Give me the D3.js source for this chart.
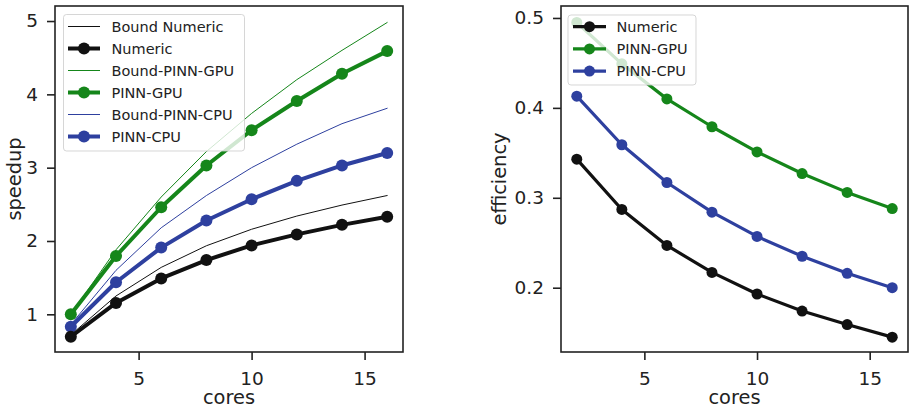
<!DOCTYPE html>
<html><head><meta charset="utf-8">
<script src="https://cdn.jsdelivr.net/npm/d3@7"></script>
<style>body{margin:0;background:#fff}svg{display:block}text{font-family:"DejaVu Sans",sans-serif;fill:#222}</style>
</head><body><svg id="c" width="909" height="409"></svg>
<script>
const cores = [2, 4, 6, 8, 10, 12, 14, 16];
const boundNumeric = [0.72, 1.25, 1.64, 1.935, 2.16, 2.34, 2.49, 2.62];
const numeric = [0.694, 1.155, 1.49, 1.74, 1.94, 2.09, 2.22, 2.33];
const boundGPU = [1.0, 1.88, 2.60, 3.22, 3.74, 4.20, 4.60, 4.98];
const pinnGPU = [1.0, 1.795, 2.46, 3.03, 3.51, 3.91, 4.28, 4.59];
const boundCPU = [0.86, 1.60, 2.18, 2.62, 3.0, 3.32, 3.60, 3.81];
const pinnCPU = [0.83, 1.437, 1.91, 2.28, 2.57, 2.82, 3.03, 3.20];
const effNumeric = [0.343, 0.287, 0.247, 0.217, 0.193, 0.174, 0.159, 0.145];
const effGPU = [0.495, 0.449, 0.410, 0.379, 0.351, 0.327, 0.306, 0.288];
const effCPU = [0.413, 0.359, 0.317, 0.284, 0.257, 0.235, 0.216, 0.200];
const xTicks = [5, 10, 15];
const speedTicks = [1, 2, 3, 4, 5];
const effTicks = [0.2, 0.3, 0.4, 0.5];

const C = {k: "#111111", g: "#15861a", b: "#2e409f"};
const svg = d3.select("#c");

function panel(opt) {
  const {x0, x1, y0, y1, ydom, yticks, yfmt, ylabel, ylabelX, series, legend, leg} = opt;
  const g = svg.append("g");
  const x = d3.scaleLinear().domain([1.3, 16.7]).range([x0, x1]);
  const y = d3.scaleLinear().domain(ydom).range([y1, y0]);
  const line = d3.line().x((d, i) => x(cores[i])).y(d => y(d));
  // series
  series.forEach(s => {
    g.append("path").attr("d", line(s.v)).attr("fill", "none")
      .attr("stroke", s.c).attr("stroke-width", s.w).attr("stroke-linejoin", "round").attr("stroke-linecap", "round");
    if (s.r) {
      g.selectAll(null).data(s.v).enter().append("circle")
        .attr("cx", (d, i) => x(cores[i])).attr("cy", d => y(d)).attr("r", s.r).attr("fill", s.c);
    }
  });
  // axes
  const ax = g.append("g").attr("transform", `translate(0,${y1})`)
    .call(d3.axisBottom(x).tickValues(xTicks).tickSize(8).tickPadding(12).tickSizeOuter(0).tickFormat(d3.format("d")));
  const ay = g.append("g").attr("transform", `translate(${x0},0)`)
    .call(d3.axisLeft(y).tickValues(yticks).tickSize(8).tickPadding(9).tickSizeOuter(0).tickFormat(yfmt));
  [ax, ay].forEach(a => {
    a.select(".domain").remove();
    a.selectAll("line").attr("stroke", "#222").attr("stroke-width", 1.6);
    a.selectAll("text").style("font-size", "18.5px").attr("fill", "#222").style("font-family", "DejaVu Sans");
  });
  g.append("rect").attr("x", x0).attr("y", y0).attr("width", x1 - x0).attr("height", y1 - y0)
    .attr("fill", "none").attr("stroke", "#222").attr("stroke-width", 1.6);
  g.append("text").attr("x", (x0 + x1) / 2).attr("y", 404).attr("text-anchor", "middle")
    .style("font-size", "19.4px").text("cores");
  g.append("text").attr("transform", `translate(${ylabelX},${(y0 + y1) / 2}) rotate(-90)`)
    .attr("text-anchor", "middle").style("font-size", "19.4px").text(ylabel);
  // legend
  g.append("rect").attr("x", leg.x).attr("y", leg.y).attr("width", leg.w).attr("height", leg.h)
    .attr("rx", 3).attr("fill", "#fff").attr("fill-opacity", 0.8).attr("stroke", "#cccccc").attr("stroke-opacity", 0.8).attr("stroke-width", 1);
  legend.forEach((s, i) => {
    const cy = leg.row0 + i * leg.dy;
    g.append("line").attr("x1", leg.hx0).attr("x2", leg.hx1).attr("y1", cy).attr("y2", cy)
      .attr("stroke", s.c).attr("stroke-width", s.w);
    if (s.r) g.append("circle").attr("cx", (leg.hx0 + leg.hx1) / 2).attr("cy", cy).attr("r", s.r).attr("fill", s.c);
    g.append("text").attr("x", leg.tx).attr("y", cy).attr("dy", "0.36em").style("font-size", "14.5px").text(s.name);
  });
}

const leftSeries = [
  {name: "Bound Numeric", v: boundNumeric, c: C.k, w: 1},
  {name: "Numeric", v: numeric, c: C.k, w: 4, r: 6},
  {name: "Bound-PINN-GPU", v: boundGPU, c: C.g, w: 1},
  {name: "PINN-GPU", v: pinnGPU, c: C.g, w: 4, r: 6},
  {name: "Bound-PINN-CPU", v: boundCPU, c: C.b, w: 1},
  {name: "PINN-CPU", v: pinnCPU, c: C.b, w: 4, r: 6}
];
panel({
  x0: 55, x1: 403, y0: 6, y1: 352, ydom: [0.486, 5.205], yticks: speedTicks, yfmt: d3.format("d"),
  ylabel: "speedup", ylabelX: 21,
  series: [leftSeries[0], leftSeries[2], leftSeries[4], leftSeries[3], leftSeries[5], leftSeries[1]],
  legend: leftSeries,
  leg: {x: 63.5, y: 14.5, w: 181, h: 136.5, row0: 26.5, dy: 22, hx0: 68, hx1: 100, tx: 111.5}
});

const rightSeries = [
  {name: "Numeric", v: effNumeric, c: C.k, w: 3.2, r: 5.5},
  {name: "PINN-GPU", v: effGPU, c: C.g, w: 3.2, r: 5.5},
  {name: "PINN-CPU", v: effCPU, c: C.b, w: 3.2, r: 5.5}
];
panel({
  x0: 561, x1: 908, y0: 6, y1: 352, ydom: [0.1285, 0.5133], yticks: effTicks, yfmt: d3.format(".1f"),
  ylabel: "efficiency", ylabelX: 506,
  series: [rightSeries[1], rightSeries[2], rightSeries[0]],
  legend: rightSeries,
  leg: {x: 568, y: 15, w: 128, h: 70, row0: 26.7, dy: 22.2, hx0: 573, hx1: 606, tx: 616.5}
});
</script></body></html>
